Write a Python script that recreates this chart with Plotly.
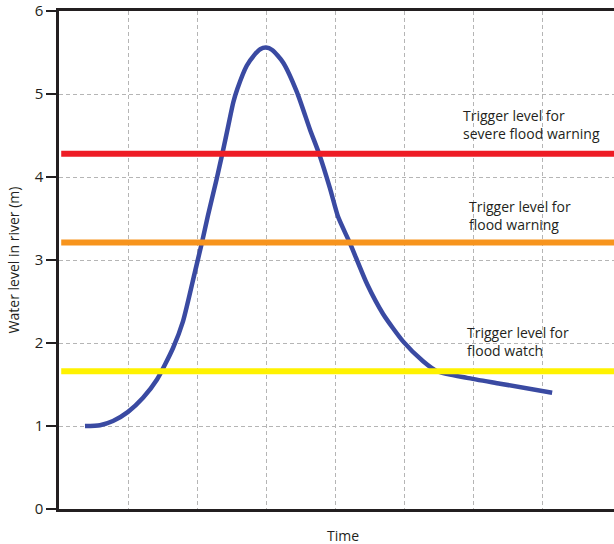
import plotly.graph_objects as go

# River level hydrograph (time in grid units, level in m)
time = [0.376, 0.593, 0.781, 0.999, 1.216, 1.418, 1.650, 1.794, 1.968, 2.065,
        2.156, 2.282, 2.363, 2.450, 2.522, 2.580, 2.716, 2.836, 2.910, 2.996,
        3.085, 3.242, 3.444, 3.632, 3.763, 3.922, 4.038, 4.211, 4.457, 4.689,
        4.978, 5.268, 5.470, 5.904, 6.382, 7.135]
level = [1.00, 1.01, 1.06, 1.17, 1.34, 1.56, 1.94, 2.26, 2.86, 3.20,
         3.54, 3.98, 4.28, 4.62, 4.90, 5.06, 5.34, 5.48, 5.54, 5.56,
         5.53, 5.38, 5.02, 4.57, 4.28, 3.86, 3.52, 3.20, 2.71, 2.35,
         2.02, 1.78, 1.66, 1.58, 1.51, 1.40]

trigger_levels = [4.28, 3.21, 1.66]
trigger_colors = ["#ee1c25", "#f7941d", "#fff200"]
trigger_labels = ["Trigger level for<br>severe flood warning",
                  "Trigger level for<br>flood warning",
                  "Trigger level for<br>flood watch"]
label_x = [5.81, 5.90, 5.88]
label_y = [4.63, 3.54, 2.02]

y_ticks = [0, 1, 2, 3, 4, 5, 6]
x_grid = [1, 2, 3, 4, 5, 6, 7]

FONT = "Open Sans"
TXT = "#231f20"

fig = go.Figure()

for lv, col in zip(trigger_levels, trigger_colors):
    fig.add_shape(type="line", xref="paper", yref="y", x0=0.004, x1=1,
                  y0=lv, y1=lv, line=dict(color=col, width=6), layer="above")

fig.add_trace(go.Scatter(x=time, y=level, mode="lines",
                         line=dict(color="#3a4aa2", width=4.5, shape="spline", smoothing=0.6),
                         hoverinfo="skip", showlegend=False))

for txt, lx, ly in zip(trigger_labels, label_x, label_y):
    fig.add_annotation(x=lx, y=ly, xref="x", yref="y", text=txt, showarrow=False,
                       xanchor="left", yanchor="middle", align="left",
                       font=dict(family=FONT, size=14, color=TXT))

fig.add_annotation(x=0.512, y=0, xref="paper", yref="paper", text="Time",
                   showarrow=False, yanchor="top", yshift=-15,
                   font=dict(family=FONT, size=14, color=TXT))

fig.update_layout(
    width=614, height=544,
    margin=dict(l=59, r=0, t=8, b=35),
    paper_bgcolor="white", plot_bgcolor="white",
    showlegend=False,
    font=dict(family=FONT, size=14, color=TXT),
    xaxis=dict(range=[0, 8.03], tickvals=x_grid, showticklabels=False, ticks="",
               showgrid=True, gridcolor="#b5b5b5", gridwidth=1, griddash="4px,3px",
               showline=True, linecolor=TXT, linewidth=2.5, mirror=True, zeroline=False,
               fixedrange=True),
    yaxis=dict(range=[0, 6], tickvals=y_ticks, ticks="outside", ticklen=10,
               tickwidth=2, tickcolor=TXT, showgrid=True, gridcolor="#b5b5b5",
               gridwidth=1, griddash="4px,3px", showline=True, linecolor=TXT,
               linewidth=2.5, zeroline=False, ticklabeloverflow="allow",
               tickfont=dict(family=FONT, size=15, color=TXT),
               title=dict(text="Water level in river (m)", standoff=12,
                          font=dict(family=FONT, size=14, color=TXT))),
)

fig.write_html("out.html", config={"displayModeBar": False},
               post_script="document.body.style.margin='0';document.body.style.padding='0';")
